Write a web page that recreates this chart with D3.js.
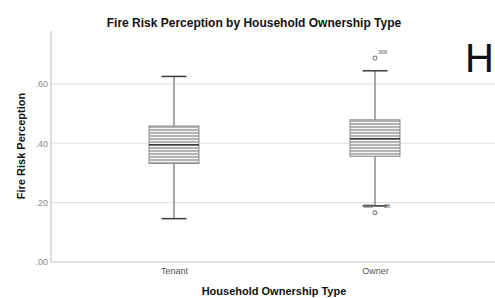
<!DOCTYPE html>
<html><head><meta charset="utf-8">
<script src="https://cdn.jsdelivr.net/npm/d3@7"></script>
<style>body{margin:0;background:#fff;}svg{display:block;font-family:"Liberation Sans",Arial,sans-serif;}</style>
</head><body>
<svg id="c" width="495" height="298"></svg>
<script>
const categories = ["Tenant", "Owner"];
const whiskerLow = [0.146, 0.189];
const q1 = [0.332, 0.356];
const median = [0.395, 0.415];
const q3 = [0.458, 0.479];
const whiskerHigh = [0.625, 0.644];
const outliers = [[], [{v: 0.687, label: "368"}, {v: 0.166, label: ""}]];
const tickValues = [0, 0.2, 0.4, 0.6];
const tickLabels = [".00", ".20", ".40", ".60"];

const svg = d3.select("#c");
const x = d3.scalePoint().domain(categories).range([51, 498]).padding(0.612);
const y = d3.scaleLinear().domain([0, 0.778]).range([262, 31]);

const defs = svg.append("defs");
const pat = defs.append("pattern").attr("id", "hatch").attr("patternUnits", "userSpaceOnUse")
  .attr("width", 6).attr("height", 3);
pat.append("rect").attr("width", 6).attr("height", 3).attr("fill", "#b4b4b4");
pat.append("rect").attr("y", 2).attr("width", 6).attr("height", 1).attr("fill", "#f4f4f4");

// gridlines
svg.append("g").selectAll("line").data(tickValues.filter(d => d > 0)).join("line")
  .attr("x1", 51).attr("x2", 498).attr("y1", d => y(d)).attr("y2", d => y(d))
  .attr("stroke", "#e3e3e3").attr("stroke-width", 1.2);

// axes
const yAxis = d3.axisLeft(y).tickValues(tickValues).tickFormat((d, i) => tickLabels[i]).tickSize(0).tickPadding(3);
const gy = svg.append("g").attr("transform", "translate(51,0)").call(yAxis);
gy.select(".domain").attr("stroke", "#c8c8c8").attr("stroke-width", 1.2).attr("d", `M0,${y(0)}V31`);
gy.selectAll("text").attr("fill", "#8a8a8a").attr("font-size", 9).attr("font-family", "Liberation Sans, Arial");

const xAxis = d3.axisBottom(x).tickSize(0).tickPadding(6);
const gx = svg.append("g").attr("transform", `translate(0,${y(0)})`).call(xAxis);
gx.select(".domain").attr("stroke", "#c8c8c8").attr("stroke-width", 1.2).attr("d", `M51,0H498`);
gx.selectAll("text").attr("fill", "#555").attr("font-size", 9).attr("font-family", "Liberation Sans, Arial");

// boxes
const bw = 50, cw = 25;
const g = svg.append("g");
categories.forEach((c, i) => {
  const cx = x(c);
  g.append("line").attr("x1", cx).attr("x2", cx).attr("y1", y(whiskerLow[i])).attr("y2", y(whiskerHigh[i]))
    .attr("stroke", "#8c8c8c").attr("stroke-width", 1.5);
  [whiskerLow[i], whiskerHigh[i]].forEach(v => {
    g.append("line").attr("x1", cx - cw / 2).attr("x2", cx + cw / 2).attr("y1", y(v)).attr("y2", y(v))
      .attr("stroke", "#3a3a3a").attr("stroke-width", 1.5);
  });
  g.append("rect").attr("x", cx - bw / 2).attr("width", bw).attr("y", y(q3[i])).attr("height", y(q1[i]) - y(q3[i]))
    .attr("fill", "url(#hatch)").attr("stroke", "#8a8a8a").attr("stroke-width", 1);
  g.append("line").attr("x1", cx - bw / 2).attr("x2", cx + bw / 2).attr("y1", y(median[i])).attr("y2", y(median[i]))
    .attr("stroke", "#3a3a3a").attr("stroke-width", 1.5);
  outliers[i].forEach(o => {
    g.append("circle").attr("cx", cx).attr("cy", y(o.v)).attr("r", 2).attr("fill", "none").attr("stroke", "#444").attr("stroke-width", 0.8);
    if (o.label) g.append("text").attr("x", cx + 3).attr("y", y(o.v) - 4).text(o.label)
      .attr("font-size", 5.5).attr("fill", "#666");
  });
  if (c === "Owner") {
    const yl = y(whiskerLow[i]);
    g.append("text").attr("x", cx - 2).attr("y", yl + 2).attr("text-anchor", "end").text("333").attr("font-size", 5.5).attr("fill", "#666");
    g.append("line").attr("x1", cx).attr("x2", cx + 9).attr("y1", yl).attr("y2", yl).attr("stroke", "#555").attr("stroke-width", 0.8);
    g.append("text").attr("x", cx + 9).attr("y", yl + 2).text("28").attr("font-size", 5.5).attr("fill", "#666");
  }
});

// titles
svg.append("text").attr("x", 254).attr("y", 27).attr("text-anchor", "middle").attr("font-weight", "bold")
  .attr("font-size", 12).attr("fill", "#111").text("Fire Risk Perception by Household Ownership Type");
svg.append("text").attr("transform", "translate(25,146) rotate(-90)").attr("text-anchor", "middle").attr("font-weight", "bold")
  .attr("font-size", 11).attr("fill", "#111").text("Fire Risk Perception");
svg.append("text").attr("x", 274).attr("y", 295).attr("text-anchor", "middle").attr("font-weight", "bold")
  .attr("font-size", 11).attr("fill", "#111").text("Household Ownership Type");
svg.append("text").attr("x", 465).attr("y", 72).attr("font-size", 40).attr("fill", "#111").text("H");
</script>
</body></html>
